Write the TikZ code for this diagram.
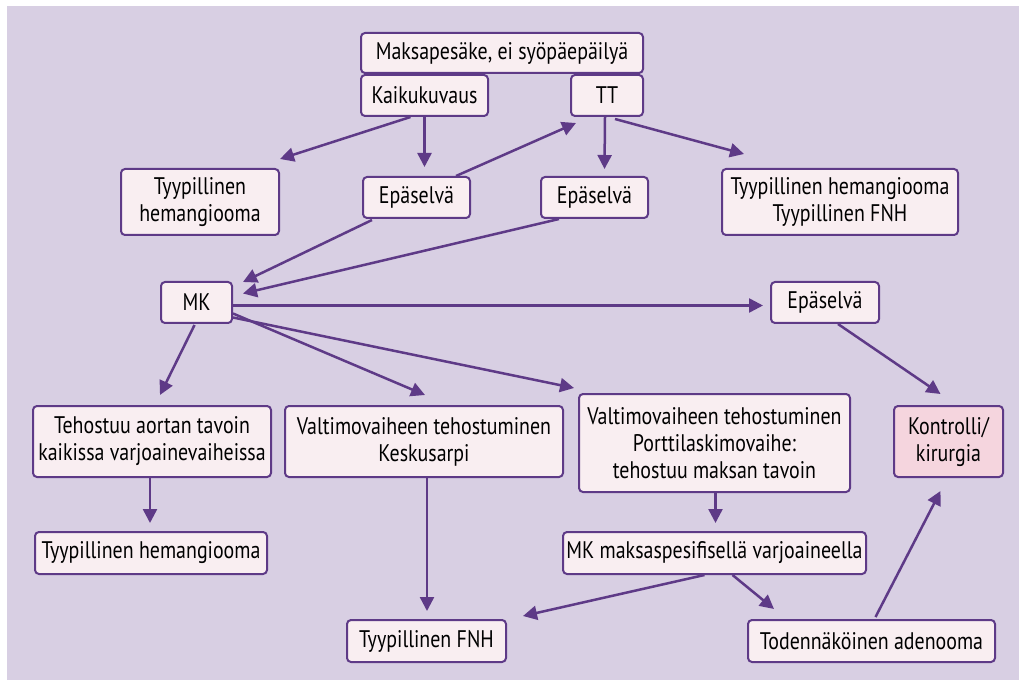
\documentclass[tikz,border=0pt]{standalone}
\usepackage{fontspec}
\setmainfont[FakeStretch=0.83]{PT Sans}
\usetikzlibrary{arrows.meta,calc}
\definecolor{lav}{HTML}{D8CFE3}
\definecolor{boxfill}{HTML}{F9EEF1}
\definecolor{kkfill}{HTML}{F5D5DE}
\definecolor{purp}{HTML}{5E3A87}
\tikzset{
  box/.style={draw=purp, line width=2pt, fill=boxfill, rounded corners=4pt, align=center, inner sep=0pt,
    font=\fontsize{24}{27}\selectfont},
  arr/.style={draw=purp, line width=2.5pt, -{Triangle[length=14pt,width=14pt]}},
}
\newcommand{\bx}[6]{\node[box,#6, minimum width=#4-#2, minimum height=#5-#3] (#1) at ({(#2+#4)/2},{(#3+#5)/2})}
\begin{document}
\begin{tikzpicture}[x=1pt,y=-1pt]
\useasboundingbox (0,0) rectangle (1025,684);
\fill[lav] (7,6) rectangle (1019,680);
\bx{top}{361}{33}{643}{73}{}{Maksapesäke, ei syöpäepäilyä};
\bx{kaiku}{361}{75}{488}{116}{}{Kaikukuvaus};
\bx{tt}{571}{75}{643}{116}{}{TT};
\bx{hema}{121}{169}{279}{235}{}{Tyypillinen\\hemangiooma};
\bx{epa}{363}{177}{470}{218}{}{Epäselvä};
\bx{epb}{541}{177}{648}{218}{}{Epäselvä};
\bx{hfnh}{722}{169}{958}{235}{}{Tyypillinen hemangiooma\\Tyypillinen FNH};
\bx{mk}{161}{282}{232}{323}{}{MK};
\bx{epc}{771}{282}{879}{323}{}{Epäselvä};
\bx{teh}{33}{406}{271}{477}{}{Tehostuu aortan tavoin\\kaikissa varjoainevaiheissa};
\bx{vk}{285}{406}{563}{477}{}{Valtimovaiheen tehostuminen\\Keskusarpi};
\bx{vp}{579}{394}{850}{492}{}{Valtimovaiheen tehostuminen\\Porttilaskimovaihe:\\tehostuu maksan tavoin};
\bx{kk}{894}{406}{1003}{477}{fill=kkfill}{Kontrolli/\\kirurgia};
\bx{hemb}{35}{532}{267}{574}{}{Tyypillinen hemangiooma};
\bx{mkm}{563}{532}{866}{574}{}{MK maksaspesifisellä varjoaineella};
\bx{fnh}{347}{620}{506}{662}{}{Tyypillinen FNH};
\bx{tod}{748}{620}{995}{662}{}{Todennäköinen adenooma};
% arrows
\draw[arr] ($(kaiku.south)+(-14,0)$) -- ($(hema.north east)+(0,-9)$);
\draw[arr] (kaiku.south) -- ($(kaiku.south |- epa.north)+(0,-9)$);
\draw[arr] ($(epa.north east)+(-15,0)$) -- ($(tt.south west)+(6,6)$);
\draw[arr] ($(tt.south)+(-2,0)$) -- ($(tt.south -| epb.north)+(10,52)$);
\draw[arr] ($(tt.south)+(8,2)$) -- ($(hfnh.north west)+(23,-14)$);
\draw[arr] ($(epa.south west)+(10,1)$) -- ($(mk.north east)+(10,1)$);
\draw[arr] ($(epb.south west)+(19,0)$) -- ($(mk.east)+(10,-9)$);
\draw[arr] ($(mk.east)+(0,3)$) -- ($(epc.west)+(-7,3)$);
\draw[arr] ($(mk.south)+(-2,1)$) -- ($(teh.north)+(8,-10)$);
\draw[arr] ($(mk.east)+(0,11)$) -- ($(vk.north)+(1,-10)$);
\draw[arr] ($(mk.east)+(0,15)$) -- ($(vp.north west)+(-4,-5)$);
\draw[arr] ($(epc.south)+(13,0)$) -- ($(kk.north)+(-8,-11)$);
\draw[arr] ($(teh.south)+(-2,0)$) -- ($(teh.south |- hemb.north)+(-2,-8)$);
\draw[arr] ($(vk.south)+(3,0)$) -- ($(vk.south |- fnh.north)+(3,-8)$);
\draw[arr] ($(vp.south)+(1,0)$) -- ($(vp.south |- mkm.north)+(1,-8)$);
\draw[arr] ($(mkm.south)+(-10,0)$) -- ($(fnh.north east)+(16,-3)$);
\draw[arr] ($(mkm.south)+(18,0)$) -- ($(tod.north west)+(27,-10)$);
\draw[arr] ($(tod.north)+(4,-2)$) -- ($(kk.south)+(-8,13)$);
\end{tikzpicture}
\end{document}
